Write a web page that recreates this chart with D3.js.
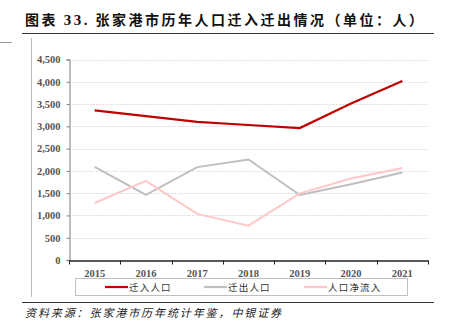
<!DOCTYPE html>
<html><head><meta charset="utf-8">
<script src="https://cdn.jsdelivr.net/npm/d3@7/dist/d3.min.js"></script>
<style>body{margin:0;background:#fff;}svg{display:block;}</style>
</head><body>
<svg id="c" width="450" height="330"></svg>
<script>
const years = ["2015","2016","2017","2018","2019","2020","2021"];
const inflow = [3360, 3230, 3100, 3030, 2960, 3510, 4020];
const outflow = [2090, 1460, 2085, 2255, 1460, 1700, 1965];
const netInflow = [1280, 1775, 1035, 770, 1495, 1830, 2065];
const yTicks = [0,500,1000,1500,2000,2500,3000,3500,4000,4500];
const seriesNames = ["迁入人口","迁出人口","人口净流入"];
const seriesColors = ["#c00000","#bfbfbf","#ffc7c7"];
const titleA = "图表 ";
const titleNum = "33.";
const titleB = " 张家港市历年人口迁入迁出情况（单位：人）";
const source = "资料来源：张家港市历年统计年鉴，中银证券";

const svg = d3.select("#c");
const cjk = "'Noto Sans CJK SC','Noto Sans CJK JP',sans-serif";
const serif = "'Liberation Serif','Times New Roman',serif";

// title & frame
const t = svg.append("text").attr("x",25).attr("y",24.5)
  .attr("font-family",cjk).attr("font-weight","bold").attr("font-size",14)
  .attr("fill","#111").attr("textLength",398).attr("lengthAdjust","spacing");
t.append("tspan").text(titleA);
t.append("tspan").text(titleNum).attr("font-family",serif).attr("font-size",15);
t.append("tspan").text(titleB);
svg.append("line").attr("x1",22).attr("x2",434).attr("y1",33.5).attr("y2",33.5).attr("stroke","#333").attr("stroke-width",1.2);
svg.append("line").attr("x1",0).attr("x2",12).attr("y1",42.5).attr("y2",42.5).attr("stroke","#999").attr("stroke-width",1);
svg.append("line").attr("x1",31.5).attr("x2",31.5).attr("y1",38).attr("y2",297).attr("stroke","#bbb").attr("stroke-width",1);
svg.append("line").attr("x1",22).attr("x2",434).attr("y1",302.5).attr("y2",302.5).attr("stroke","#333").attr("stroke-width",1.2);
svg.append("text").attr("x",25).attr("y",317).text(source)
  .attr("font-family",cjk).attr("font-style","italic").attr("font-size",11)
  .attr("letter-spacing",1.9).attr("fill","#222");

const x = d3.scaleBand().domain(years).range([69,428]);
const y = d3.scaleLinear().domain([0,4500]).range([260,59.5]);

// gridlines
svg.append("g").selectAll("line").data(yTicks.filter(d=>d>0)).join("line")
  .attr("x1",69).attr("x2",428).attr("y1",d=>Math.round(y(d))+0.5).attr("y2",d=>Math.round(y(d))+0.5)
  .attr("stroke","#d9d9d9").attr("stroke-dasharray","2,1").attr("stroke-width",0.8);

// y axis
const ya = svg.append("g").attr("transform","translate(69.5,0)")
  .call(d3.axisLeft(y).tickValues(yTicks).tickFormat(d3.format(",")).tickSize(3).tickPadding(6));
ya.select(".domain").attr("stroke","#a6a6a6").attr("stroke-width",1.5);
ya.selectAll(".tick line").attr("stroke","#808080");
ya.selectAll("text").attr("font-family",serif).attr("font-weight","bold").attr("font-size",10.5).attr("fill","#555");

// x axis
const xa = svg.append("g").attr("transform","translate(0,260.5)")
  .call(d3.axisBottom(x).tickSize(0).tickPadding(9));
xa.select(".domain").attr("stroke","#222").attr("stroke-width",1.5);
xa.selectAll("text").attr("font-family",serif).attr("font-weight","bold").attr("font-size",10.5).attr("fill","#555");
const bounds = years.map(d=>x(d)).concat([x.range()[1]]);
xa.append("g").selectAll("line").data(bounds).join("line")
  .attr("x1",d=>Math.round(d)+0.5).attr("x2",d=>Math.round(d)+0.5).attr("y1",0).attr("y2",4)
  .attr("stroke","#222").attr("stroke-width",1);

// lines
const data = [inflow,outflow,netInflow];
const line = d3.line().x((d,i)=>x(years[i])+x.bandwidth()/2).y(d=>y(d));
[1,2,0].forEach(k=>{
  svg.append("path").datum(data[k]).attr("d",line).attr("fill","none")
    .attr("stroke",seriesColors[k]).attr("stroke-width",k===0?2.2:2);
});

// legend
svg.append("rect").attr("x",75.5).attr("y",278.5).attr("width",332).attr("height",17)
  .attr("fill","#fff").attr("stroke","#bfbfbf").attr("stroke-width",1);
const lx = [105,204,304];
seriesNames.forEach((n,i)=>{
  svg.append("line").attr("x1",lx[i]).attr("x2",lx[i]+23).attr("y1",287).attr("y2",287)
    .attr("stroke",seriesColors[i]).attr("stroke-width",2.2);
  svg.append("text").attr("x",lx[i]+24).attr("y",290.5).text(n)
    .attr("font-family",cjk).attr("font-size",9.5).attr("letter-spacing",1.2).attr("fill","#333");
});
</script>
</body></html>
